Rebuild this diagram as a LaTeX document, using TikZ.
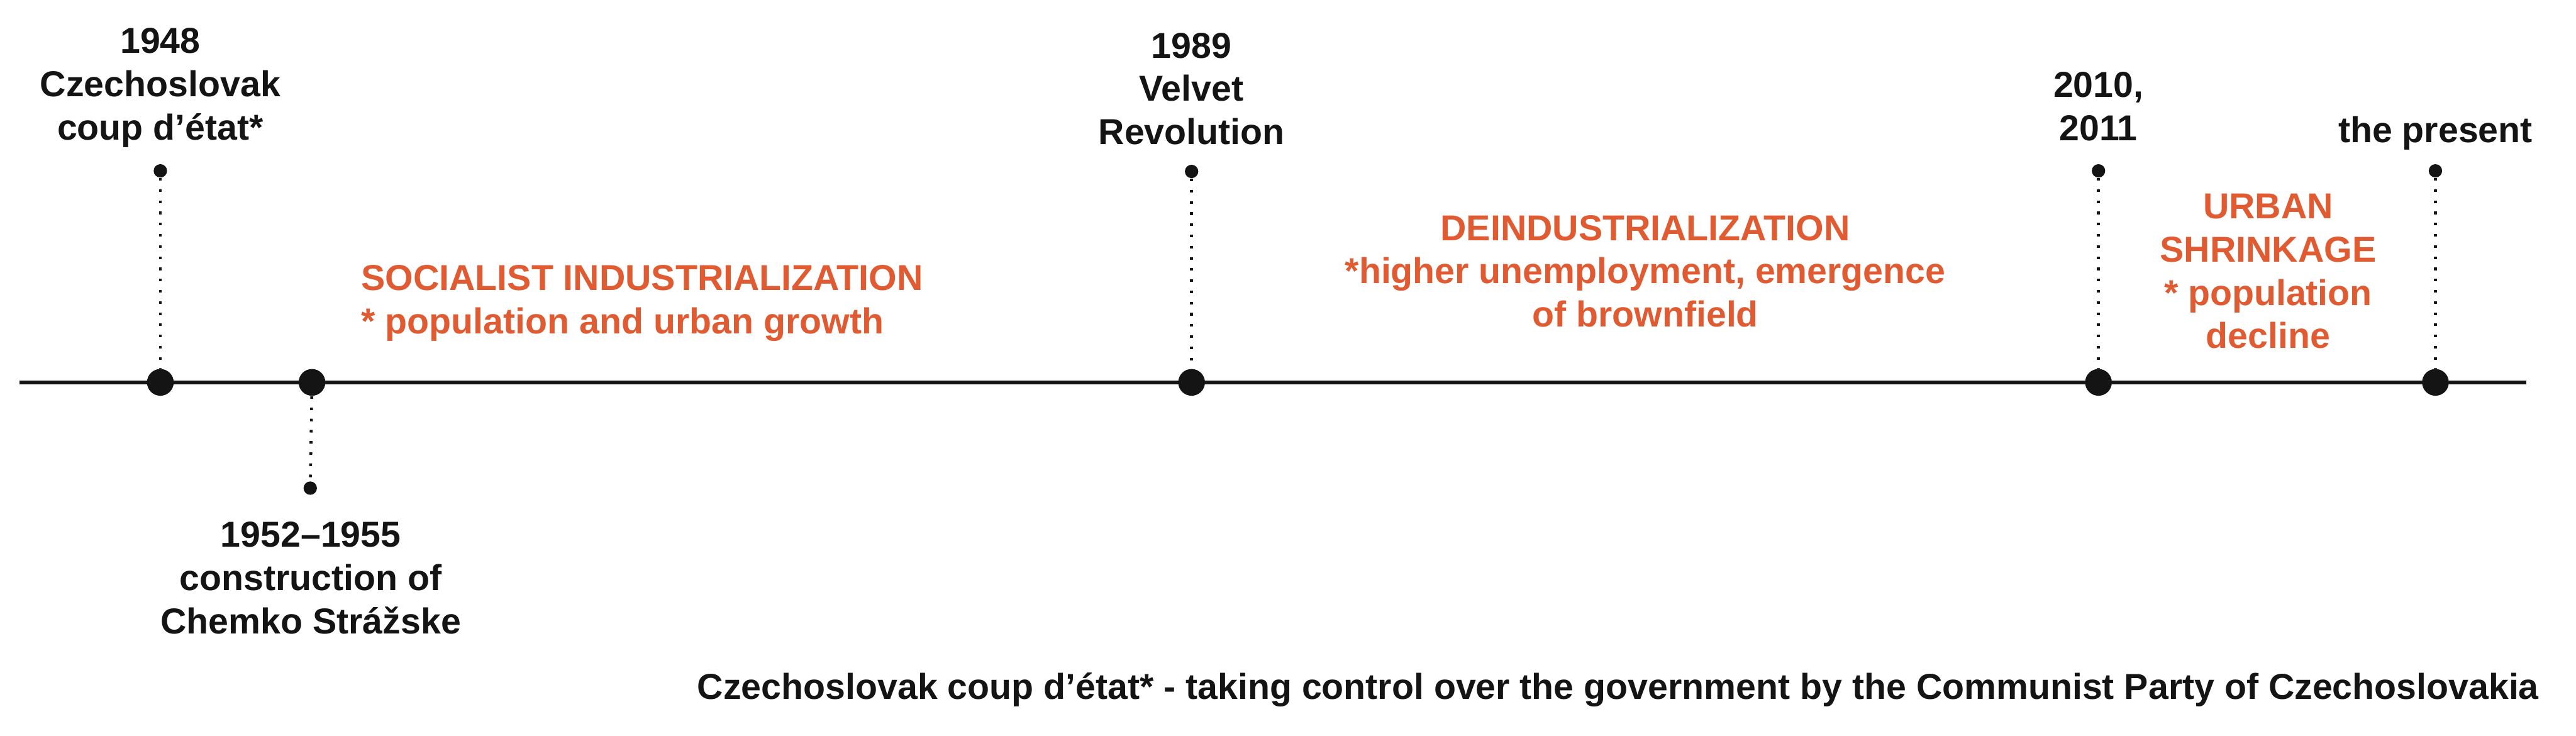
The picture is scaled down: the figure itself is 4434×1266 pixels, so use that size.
\documentclass[tikz,border=0pt]{standalone}
\usepackage{fontspec}
\setmainfont{Liberation Sans}
\definecolor{orng}{HTML}{E15B32}
\definecolor{ink}{HTML}{141414}
\begin{document}
\begin{tikzpicture}[x=0.2pt,y=-0.2pt,
  lab/.style={font=\fontsize{12.4pt}{14.9pt}\selectfont\bfseries, text=ink, inner sep=0pt, align=center, anchor=north},
  per/.style={lab, text=orng},
  bigdot/.style={circle, fill=ink, minimum size=9.2pt, inner sep=0pt},
  smalldot/.style={circle, fill=ink, minimum size=4.6pt, inner sep=0pt},
  dotline/.style={draw=ink, line width=1pt, dash pattern=on 0.9pt off 2.95pt},
  axisline/.style={draw=ink, line width=1.2pt}]
\fill[white] (0,0) rectangle (4434,1266);
\useasboundingbox (0,0) rectangle (4434,1266);

% axis
\coordinate (axL) at (34,658);
\coordinate (axR) at (4348,658);
\draw[axisline] (axL) -- (axR);

% events on the axis
\node[bigdot] (b1948) at (276,658) {};
\node[bigdot] (b1952) at (537,658) {};
\node[bigdot] (b1989) at (2051,658) {};
\node[bigdot] (b2010) at (3612,658) {};
\node[bigdot] (bnow)  at (4192,658) {};

% small end dots
\node[smalldot] (s1948) at (276,294) {};
\node[smalldot] (s1952) at (534,840) {};
\node[smalldot] (s1989) at (2051,295) {};
\node[smalldot] (s2010) at (3612,294) {};
\node[smalldot] (snow)  at (4192,294) {};

% dotted leaders
\draw[dotline] (s1948) -- (b1948);
\draw[dotline] (b1952) -- (s1952);
\draw[dotline] (s1989) -- (b1989);
\draw[dotline] (s2010) -- (b2010);
\draw[dotline] (snow) -- (bnow);

% event labels
\node[lab] (l1948) at (276,47.4) {1948\\Czechoslovak\\coup d’état*};
\node[lab] (l1989) at (2051,55.4) {1989\\Velvet\\Revolution};
\node[lab] (l2010) at (3612,123.4) {2010,\\2011};
\node[lab] (lnow)  at (4192,199.4) {the present};
\node[lab] (l1952) at (535,897.4) {1952–1955\\construction of\\Chemko Strážske};

% period labels
\node[per, align=left, anchor=north west] (psoc) at (621,455.4) {SOCIALIST INDUSTRIALIZATION\\* population and urban growth};
\node[per] (pdein) at (2832,369.4) {DEINDUSTRIALIZATION\\*higher unemployment, emergence\\of brownfield};
\node[per] (purb) at (3904,332.4) {URBAN\\SHRINKAGE\\* population\\decline};

% footnote
\node[lab, anchor=base east] (note) at (4371,1203) {Czechoslovak coup d’état* - taking control over the government by the Communist Party of Czechoslovakia};
\end{tikzpicture}
\end{document}
